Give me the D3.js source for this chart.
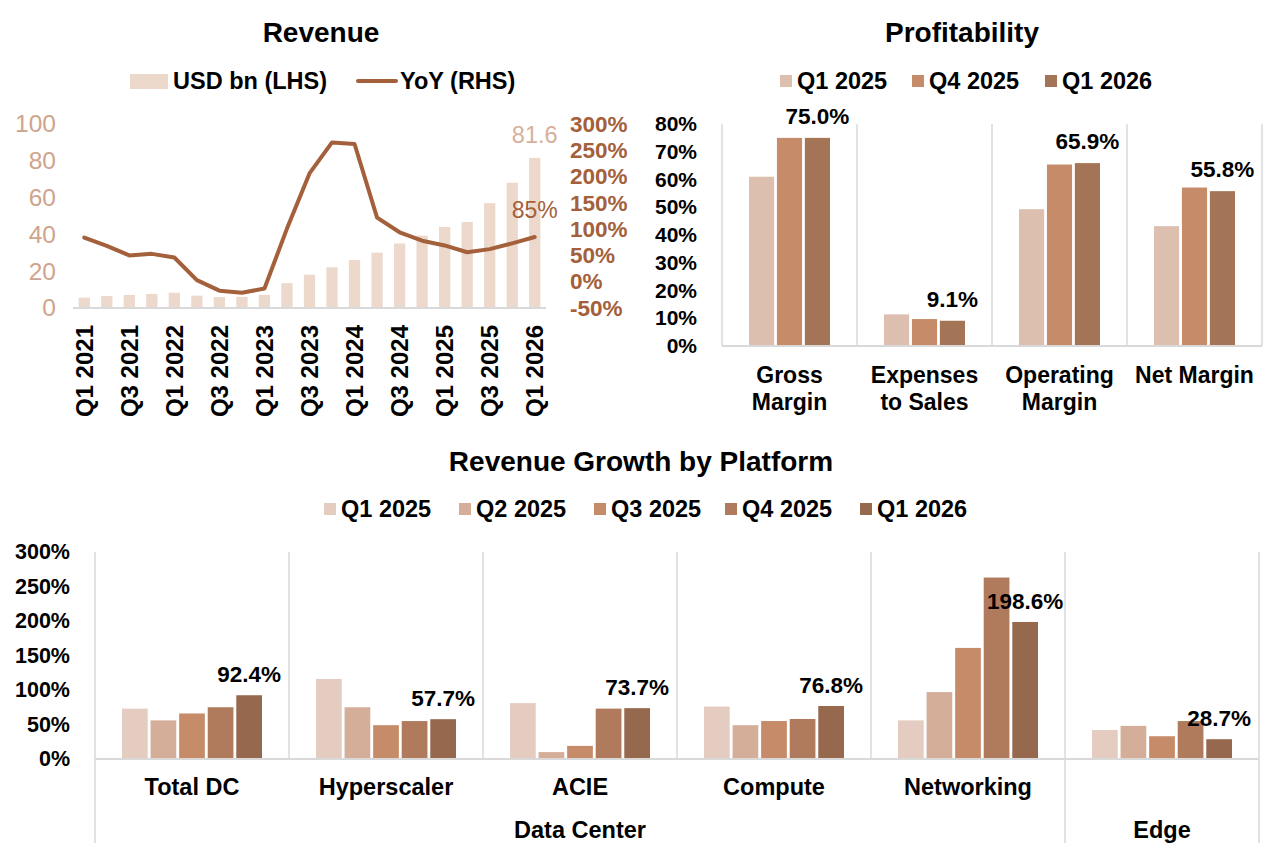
<!DOCTYPE html>
<html>
<head>
<meta charset="utf-8">
<script src="https://cdn.jsdelivr.net/npm/d3@7"></script>
<style>
  body { margin: 0; background: #fff; }
  svg { font-family: "Liberation Sans", Arial, sans-serif; }
</style>
</head>
<body>
<svg id="chart" width="1282" height="854"></svg>
<script>
// ---- revenue (quarterly) ----
const quarters = ["Q1 2021","Q2 2021","Q3 2021","Q4 2021","Q1 2022","Q2 2022","Q3 2022","Q4 2022",
  "Q1 2023","Q2 2023","Q3 2023","Q4 2023","Q1 2024","Q2 2024","Q3 2024","Q4 2024",
  "Q1 2025","Q2 2025","Q3 2025","Q4 2025","Q1 2026"];
const revenueUsd = [5.66, 6.51, 7.10, 7.64, 8.29, 6.70, 5.93, 6.05, 7.19, 13.51, 18.12, 22.10,
  26.04, 30.04, 35.08, 39.33, 44.06, 46.74, 57.0, 68.1, 81.6];
const revenueYoY = [84, 68, 50, 53, 46, 3, -17, -21, -13, 101, 206, 265, 262, 122, 94, 78, 69, 56, 62, 73, 85];
const revenueTicksLeft = [0, 20, 40, 60, 80, 100];
const revenueTicksRight = [-50, 0, 50, 100, 150, 200, 250, 300];

// ---- profitability ----
const profitCats = ["Gross Margin", "Expenses to Sales", "Operating Margin", "Net Margin"];
const profitCatLines = [["Gross", "Margin"], ["Expenses", "to Sales"], ["Operating", "Margin"], ["Net Margin"]];
const profitSeries = ["Q1 2025", "Q4 2025", "Q1 2026"];
const profitQ1_2025 = [61.0, 11.4, 49.3, 43.2];
const profitQ4_2025 = [75.0, 9.7, 65.4, 57.1];
const profitQ1_2026 = [75.0, 9.1, 65.9, 55.8];
const profitTicks = [0, 10, 20, 30, 40, 50, 60, 70, 80];

// ---- revenue growth by platform ----
const platforms = ["Total DC", "Hyperscaler", "ACIE", "Compute", "Networking", "Edge"];
const platformTickLabels = ["Total DC", "Hyperscaler", "ACIE", "Compute", "Networking", ""];
const platformGroups = [{name: "Data Center", from: 0, to: 4}, {name: "Edge", from: 5, to: 5}];
const growthSeries = ["Q1 2025", "Q2 2025", "Q3 2025", "Q4 2025", "Q1 2026"];
const growthQ1_2025 = [73, 116, 81, 76, 56, 42];
const growthQ2_2025 = [56, 75, 10, 49, 97, 48];
const growthQ3_2025 = [66, 49, 19, 55, 161, 33];
const growthQ4_2025 = [75, 55, 73, 58, 263, 55];
const growthQ1_2026 = [92.4, 57.7, 73.7, 76.8, 198.6, 28.7];
const growthTicks = [0, 50, 100, 150, 200, 250, 300];

const svg = d3.select("#chart");
const grid = "#d9d9d9";
const lineColor = "#a3603a";
const barLight = "#edd8cc";
const tanText = "#cfa48c";

function title(txt, x, y) {
  svg.append("text").attr("x", x).attr("y", y).attr("text-anchor", "middle")
    .attr("dominant-baseline", "central")
    .style("font-size", "28px").style("font-weight", "bold").text(txt);
}

function squareLegend(items, colors, xs, y) {
  items.forEach((s, i) => {
    svg.append("rect").attr("x", xs[i]).attr("y", y - 6).attr("width", 12).attr("height", 12)
      .attr("fill", colors[i]);
    svg.append("text").attr("x", xs[i] + 17).attr("y", y).attr("dominant-baseline", "central")
      .style("font-size", "23.5px").style("font-weight", "bold").text(s);
  });
}

function styleAxis(g, color, weight, size) {
  g.select(".domain").remove();
  g.selectAll(".tick line").remove();
  g.selectAll("text").attr("fill", color).style("font-size", size)
    .style("font-weight", weight).style("font-family", "Liberation Sans, Arial, sans-serif");
}

// =========== Revenue ===========
title("Revenue", 321, 32);
const xr = d3.scaleBand().domain(quarters).range([73, 546]).paddingInner(0.5).paddingOuter(0.25);
const yl = d3.scaleLinear().domain([0, 100]).range([308, 124]);
const yr = d3.scaleLinear().domain([-50, 300]).range([308, 124]);

svg.append("g").selectAll("rect").data(revenueUsd).join("rect")
  .attr("x", (d, i) => xr(quarters[i]))
  .attr("y", d => yl(d))
  .attr("width", xr.bandwidth())
  .attr("height", d => yl(0) - yl(d))
  .attr("fill", barLight);

svg.append("line").attr("x1", 73).attr("x2", 546).attr("y1", yl(0)).attr("y2", yl(0))
  .attr("stroke", grid).attr("stroke-width", 2);

const line = d3.line()
  .x((d, i) => xr(quarters[i]) + xr.bandwidth() / 2)
  .y(d => yr(d));
svg.append("path").datum(revenueYoY).attr("d", line)
  .attr("fill", "none").attr("stroke", lineColor).attr("stroke-width", 4)
  .attr("stroke-linejoin", "round").attr("stroke-linecap", "round");

const lastQ = quarters[quarters.length - 1];
const lastX = xr(lastQ) + xr.bandwidth() / 2;
svg.append("text").attr("x", lastX).attr("y", yl(revenueUsd[revenueUsd.length - 1]) - 15)
  .attr("text-anchor", "middle").attr("fill", "#d6b09c").style("font-size", "23.5px")
  .text(revenueUsd[revenueUsd.length - 1].toFixed(1));
svg.append("text").attr("x", lastX).attr("y", yr(revenueYoY[revenueYoY.length - 1]) - 19)
  .attr("text-anchor", "middle").attr("fill", lineColor).style("font-size", "23px")
  .text(revenueYoY[revenueYoY.length - 1] + "%");

svg.append("g").attr("transform", "translate(56,0)")
  .call(d3.axisLeft(yl).tickValues(revenueTicksLeft).tickSize(0).tickPadding(0))
  .call(g => styleAxis(g, tanText, "normal", "24.5px"));
svg.append("g").attr("transform", "translate(570,0)")
  .call(d3.axisRight(yr).tickValues(revenueTicksRight).tickSize(0).tickPadding(0).tickFormat(d => d + "%"))
  .call(g => styleAxis(g, lineColor, "bold", "22.5px"));

svg.append("g").attr("transform", "translate(0,318)")
  .call(d3.axisBottom(xr).tickValues(quarters.filter((q, i) => i % 2 === 0)).tickSize(0).tickPadding(0))
  .call(g => styleAxis(g, "#000", "bold", "24px"))
  .call(g => g.selectAll("text").attr("transform", "rotate(-90)").attr("text-anchor", "end")
    .attr("x", -7).attr("y", 0).attr("dy", "0.35em"));

// legend
svg.append("rect").attr("x", 130).attr("y", 74).attr("width", 38).attr("height", 15).attr("fill", barLight);
svg.append("text").attr("x", 173).attr("y", 81).attr("dominant-baseline", "central")
  .style("font-size", "23.5px").style("font-weight", "bold").text("USD bn (LHS)");
svg.append("line").attr("x1", 358).attr("x2", 396).attr("y1", 81).attr("y2", 81)
  .attr("stroke", lineColor).attr("stroke-width", 4).attr("stroke-linecap", "round");
svg.append("text").attr("x", 400).attr("y", 81).attr("dominant-baseline", "central")
  .style("font-size", "23.5px").style("font-weight", "bold").text("YoY (RHS)");

// =========== Profitability ===========
title("Profitability", 962, 32);
const profitColors = ["#ddbfb0", "#c68b68", "#a37456"];
squareLegend(profitSeries, profitColors, [780, 912, 1045], 81);
const profitValues = [profitQ1_2025, profitQ4_2025, profitQ1_2026];

const xp = d3.scaleBand().domain(profitCats).range([722, 1262]);
const xp1 = d3.scaleBand().domain(profitSeries).range([27, 108]).paddingInner(0.1);
const yp = d3.scaleLinear().domain([0, 80]).range([346, 124]);

profitCats.forEach(c => {
  svg.append("line").attr("x1", xp(c)).attr("x2", xp(c)).attr("y1", yp(80)).attr("y2", yp(0))
    .attr("stroke", grid).attr("stroke-width", 1.5);
});
svg.append("line").attr("x1", 1262).attr("x2", 1262).attr("y1", yp(80)).attr("y2", yp(0))
  .attr("stroke", grid).attr("stroke-width", 1.5);

profitSeries.forEach((s, si) => {
  svg.append("g").selectAll("rect").data(profitValues[si]).join("rect")
    .attr("x", (d, i) => xp(profitCats[i]) + xp1(s))
    .attr("y", d => yp(d))
    .attr("width", xp1.bandwidth())
    .attr("height", d => yp(0) - yp(d))
    .attr("fill", profitColors[si]);
});
svg.append("line").attr("x1", 722).attr("x2", 1262).attr("y1", yp(0)).attr("y2", yp(0))
  .attr("stroke", grid).attr("stroke-width", 2);

svg.append("g").selectAll("text").data(profitQ1_2026).join("text")
  .attr("x", (d, i) => xp(profitCats[i]) + xp1("Q1 2026") + xp1.bandwidth() / 2)
  .attr("y", d => yp(d) - 14)
  .attr("text-anchor", "middle").style("font-size", "22.5px").style("font-weight", "bold")
  .text(d => d.toFixed(1) + "%");

svg.append("g").attr("transform", "translate(697,0)")
  .call(d3.axisLeft(yp).tickValues(profitTicks).tickSize(0).tickPadding(0).tickFormat(d => d + "%"))
  .call(g => styleAxis(g, "#000", "bold", "21px"));

profitCatLines.forEach((lines, i) => {
  const t = svg.append("text").attr("text-anchor", "middle")
    .style("font-size", "23px").style("font-weight", "bold");
  lines.forEach((l, k) => {
    t.append("tspan").attr("x", xp(profitCats[i]) + xp.bandwidth() / 2)
      .attr("y", 375 + k * 27).attr("dominant-baseline", "central").text(l);
  });
});

// =========== Revenue Growth by Platform ===========
title("Revenue Growth by Platform", 641, 461);
const growthColors = ["#e4ccc1", "#d5ae9a", "#c68b68", "#b07b5c", "#96694e"];
squareLegend(growthSeries, growthColors, [324, 459, 594, 725, 860], 509);
const growthValues = [growthQ1_2025, growthQ2_2025, growthQ3_2025, growthQ4_2025, growthQ1_2026];

const xg = d3.scaleBand().domain(platforms).range([95, 1259]);
const xg1 = d3.scaleBand().domain(growthSeries).range([27, 167]).paddingInner(0.1);
const yg = d3.scaleLinear().domain([0, 300]).range([759, 552]);

platforms.forEach((p, i) => {
  const full = platformGroups.some(g => g.from === i);
  svg.append("line").attr("x1", xg(p)).attr("x2", xg(p)).attr("y1", yg(300))
    .attr("y2", full ? 843 : yg(0)).attr("stroke", grid).attr("stroke-width", 1.5);
});
svg.append("line").attr("x1", 1259).attr("x2", 1259).attr("y1", yg(300)).attr("y2", 843)
  .attr("stroke", grid).attr("stroke-width", 1.5);

growthSeries.forEach((s, si) => {
  svg.append("g").selectAll("rect").data(growthValues[si]).join("rect")
    .attr("x", (d, i) => xg(platforms[i]) + xg1(s))
    .attr("y", d => yg(d))
    .attr("width", xg1.bandwidth())
    .attr("height", d => yg(0) - yg(d))
    .attr("fill", growthColors[si]);
});
svg.append("line").attr("x1", 95).attr("x2", 1259).attr("y1", yg(0)).attr("y2", yg(0))
  .attr("stroke", grid).attr("stroke-width", 2);

svg.append("g").selectAll("text").data(growthQ1_2026).join("text")
  .attr("x", (d, i) => xg(platforms[i]) + xg1("Q1 2026") + xg1.bandwidth() / 2)
  .attr("y", d => yg(d) - 13)
  .attr("text-anchor", "middle").style("font-size", "22.5px").style("font-weight", "bold")
  .text(d => d.toFixed(1) + "%");

svg.append("g").attr("transform", "translate(70,0)")
  .call(d3.axisLeft(yg).tickValues(growthTicks).tickSize(0).tickPadding(0).tickFormat(d => d + "%"))
  .call(g => styleAxis(g, "#000", "bold", "21.5px"));

svg.append("g").attr("transform", "translate(0,787)")
  .call(d3.axisBottom(xg).tickSize(0).tickPadding(0).tickFormat((d, i) => platformTickLabels[i]))
  .call(g => styleAxis(g, "#000", "bold", "23.5px"))
  .call(g => g.selectAll("text").attr("y", 0).attr("dy", "0.35em"));

platformGroups.forEach(g => {
  const x0 = xg(platforms[g.from]);
  const x1 = xg(platforms[g.to]) + xg.bandwidth();
  svg.append("text").attr("x", (x0 + x1) / 2).attr("y", 830).attr("text-anchor", "middle")
    .attr("dominant-baseline", "central").style("font-size", "23.5px").style("font-weight", "bold")
    .text(g.name);
});
</script>
</body>
</html>
